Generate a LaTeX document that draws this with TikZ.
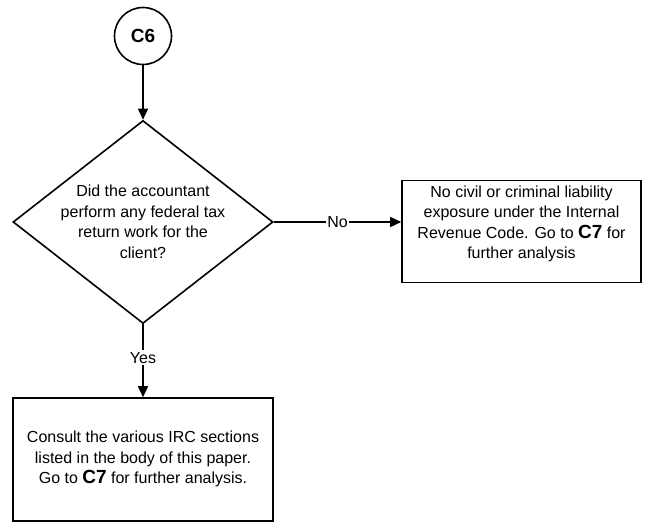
\documentclass[tikz,border=0pt]{standalone}
\usepackage{fontspec}
\setmainfont{Liberation Sans}
\usetikzlibrary{shapes.geometric,arrows.meta}
\begin{document}
\begin{tikzpicture}[x=1pt,y=-1pt,
  line width=1.6pt,
  every node/.style={inner sep=0pt},
  txt/.style={font=\fontsize{16}{20.5}\selectfont, align=center},
  arr/.style={-{Triangle[length=11pt,width=10pt]}},
  big/.style={font=\fontsize{19}{20}\selectfont\bfseries}
]
\useasboundingbox (0,0) rectangle (651,524);
\node[draw, circle, minimum size=57pt, big] (c6) at (143,36) {C6};
\node[draw, diamond, minimum width=260pt, minimum height=203pt, aspect=1.28] (d) at (143,222) {};
\node[txt] at (143,222) {Did the accountant\\perform any federal tax\\return work for the\\client?};
\node[draw, minimum width=239pt, minimum height=102pt] (no) at (521.5,231.5) {};
\node[txt] at (521.5,224) {No civil or criminal liability\\exposure under the Internal\\Revenue Code. Go to {\fontsize{19}{20}\selectfont\bfseries C7} for\\further analysis};
\node[draw, minimum width=260pt, minimum height=123pt] (yes) at (143,459.5) {};
\node[txt] at (143,459) {Consult the various IRC sections\\listed in the body of this paper.\\Go to {\fontsize{19}{20}\selectfont\bfseries C7} for further analysis.};
\draw[arr] (c6) -- (d.north);
\draw[arr] (d.east) -- node[fill=white, txt, inner sep=1pt] {No} (d.east -| no.west);
\draw[arr] (d.south) -- node[pos=0.46, fill=white, txt, inner sep=2pt] {Yes} (yes.north);
\end{tikzpicture}
\end{document}
